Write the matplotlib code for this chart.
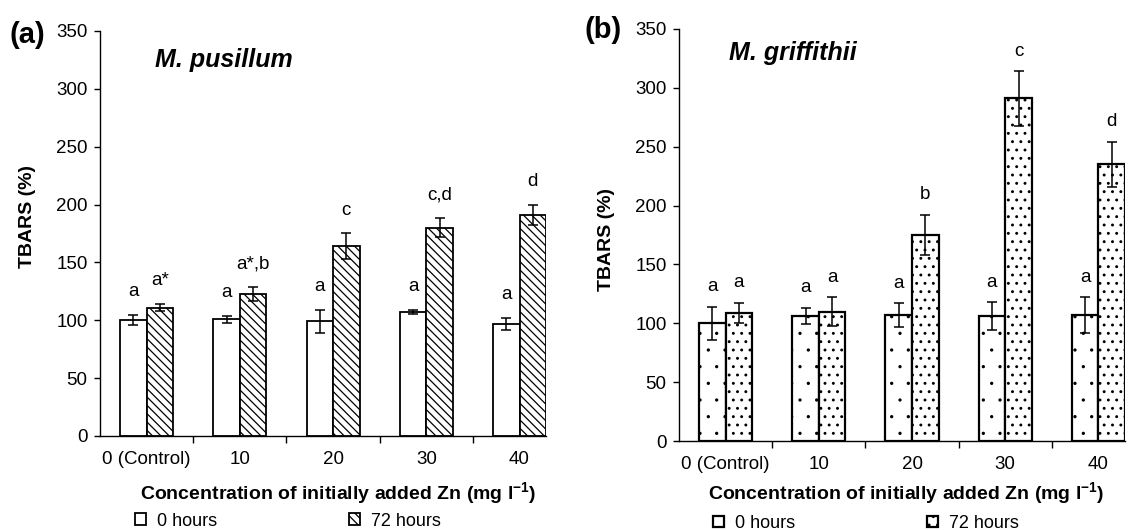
import numpy as np
import matplotlib
matplotlib.use('Agg')
import matplotlib.pyplot as plt
import matplotlib.hatch as mhatch
from matplotlib.path import Path
from matplotlib.ticker import FixedLocator

plt.rcParams['font.family'] = ['Liberation Sans', 'DejaVu Sans']
plt.rcParams['hatch.linewidth'] = 0.9


# tiny filled dots for the sparse pattern (':' in a hatch string)
class TinyDots(mhatch.Shapes):
    size = 0.06
    filled = True

    def __init__(self, hatch, density):
        self.num_rows = hatch.count(':') * density
        self.shape_vertices = Path.unit_circle().vertices
        self.shape_codes = Path.unit_circle().codes
        super().__init__(hatch, density)


mhatch._hatch_types.append(TinyDots)

# data
categories = ['0 (Control)', '10', '20', '30', '40']
series_names = ['0 hours', '72 hours']

pus_0h = [100, 101, 99, 107, 97]
pus_0h_err = [4.5, 3, 10, 2, 5]
pus_72h = [111, 123, 164, 180, 191]
pus_72h_err = [3, 6, 11, 8, 9]
pus_lab_0h = ['a', 'a', 'a', 'a', 'a']
pus_lab_72h = ['a*', 'a*,b', 'c', 'c,d', 'd']

gri_0h = [100, 106, 107, 106, 107]
gri_0h_err = [14, 7, 10, 12, 15]
gri_72h = [109, 110, 175, 291, 235]
gri_72h_err = [8.5, 12, 17, 23, 19]
gri_lab_0h = ['a', 'a', 'a', 'a', 'a']
gri_lab_72h = ['a', 'a', 'b', 'c', 'd']


def draw_panel(ax, v0, e0, v1, e1, lab0, lab1, hatches, edge_lw, title, tag,
               lab_off, title_pos, tag_pos, ylab_y, xlab_pos, leg_pos):
    x = np.arange(len(categories))
    w = 0.285
    b0 = ax.bar(x - w / 2, v0, w, color='white', edgecolor='black',
                linewidth=edge_lw, hatch=hatches[0], label=series_names[0])
    b1 = ax.bar(x + w / 2, v1, w, color='white', edgecolor='black',
                linewidth=edge_lw, hatch=hatches[1], label=series_names[1])
    ax.errorbar(x - w / 2, v0, yerr=e0, fmt='none', ecolor='black',
                elinewidth=1.1, capsize=3.5, capthick=1.1)
    ax.errorbar(x + w / 2, v1, yerr=e1, fmt='none', ecolor='black',
                elinewidth=1.1, capsize=3.5, capthick=1.1)

    # significance letters above the error bars
    for xi, v, e, t in zip(x - w / 2, v0, e0, lab0):
        ax.text(xi, v + e + lab_off, t, ha='center', va='center', fontsize=13.5)
    for xi, v, e, t in zip(x + w / 2, v1, e1, lab1):
        ax.text(xi, v + e + lab_off, t, ha='center', va='center', fontsize=13.5)

    ax.set_ylim(0, 350)
    ax.set_yticks(np.arange(0, 351, 50))
    ax.set_xlim(-0.5, len(categories) - 1 + w)
    ax.set_xticks(x)
    ax.set_xticklabels(categories)
    ax.xaxis.set_minor_locator(FixedLocator(x[:-1] + 0.5))
    ax.tick_params(axis='x', which='major', length=0, pad=11, labelsize=13.5)
    ax.tick_params(axis='x', which='minor', length=5, width=1, direction='out')
    ax.tick_params(axis='y', length=4, width=1, direction='out', pad=5,
                   labelsize=13.5)
    for s in ['top', 'right']:
        ax.spines[s].set_visible(False)
    for s in ['left', 'bottom']:
        ax.spines[s].set_linewidth(1.0)

    ax.set_ylabel('TBARS (%)', fontsize=14, fontweight='bold')
    ax.yaxis.set_label_coords(-0.143, ylab_y)
    ax.set_xlabel('Concentration of initially added Zn (mg l$^{\\mathregular{-1}}$)',
                  fontsize=14, fontweight='bold')
    ax.xaxis.set_label_coords(xlab_pos[0], xlab_pos[1])

    ax.text(title_pos[0], title_pos[1], title, transform=ax.transAxes,
            fontsize=18, fontweight='bold', fontstyle='italic', va='center')
    ax.text(tag_pos[0], tag_pos[1], tag, transform=ax.transAxes, fontsize=21,
            fontweight='bold', va='center', ha='left')

    ax.legend(handles=[b0, b1], loc='center left', bbox_to_anchor=leg_pos,
              ncol=2, frameon=False, fontsize=13, handlelength=0.62,
              handleheight=0.62, handletextpad=0.6, columnspacing=7.3,
              borderpad=0, borderaxespad=0)


fig = plt.figure(figsize=(11.37, 5.30), dpi=100)
ax1 = fig.add_axes([0.0880, 0.1774, 0.3923, 0.7642])
ax2 = fig.add_axes([0.5972, 0.1679, 0.3923, 0.7774])

draw_panel(ax1, pus_0h, pus_0h_err, pus_72h, pus_72h_err, pus_lab_0h,
           pus_lab_72h, [None, '\\\\\\\\'], 1.3, 'M. pusillum', '(a)', 20,
           (0.123, 0.928), (-0.202, 0.99), 0.543, (0.534, -0.109),
           (0.078, -0.21))
draw_panel(ax2, gri_0h, gri_0h_err, gri_72h, gri_72h_err, gri_lab_0h,
           gri_lab_72h, [':', '..'], 1.6, 'M. griffithii', '(b)', 17,
           (0.112, 0.942), (-0.213, 0.998), 0.488, (0.509, -0.095),
           (0.076, -0.2))

fig.savefig('out.png', dpi=100)
